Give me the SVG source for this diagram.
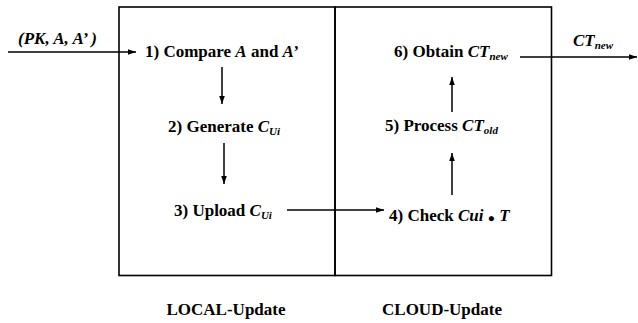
<svg xmlns="http://www.w3.org/2000/svg" width="638" height="323" viewBox="0 0 638 323">
<style>
.t{font-family:"Liberation Serif","DejaVu Serif","Times New Roman",serif;font-weight:bold;font-size:17px;fill:#000}
.i{font-style:italic}
.s{font-size:11px}
.box{fill:none;stroke:#000;stroke-width:1.6}
.c{stroke:#000;stroke-width:1.5;fill:none}
</style>
<defs>
<marker id="ah" viewBox="0 0 10 10" refX="10" refY="5" markerWidth="8" markerHeight="8" markerUnits="userSpaceOnUse" orient="auto"><path d="M0,1.5 L10,5 L0,8.5 Z" fill="#000"/></marker>
</defs>
<rect width="638" height="323" fill="#fff"/>
<g id="local-box"><rect class="box" x="119" y="7" width="216" height="268.5"/></g>
<g id="cloud-box"><rect class="box" x="335" y="7" width="216.5" height="268.5"/></g>
<g id="connectors">
<line class="c" x1="8" y1="52" x2="136" y2="52" marker-end="url(#ah)"/>
<line class="c" x1="222" y1="67" x2="222" y2="104" marker-end="url(#ah)"/>
<line class="c" x1="224" y1="143" x2="224" y2="184" marker-end="url(#ah)"/>
<line class="c" x1="287" y1="210" x2="384" y2="210" marker-end="url(#ah)"/>
<line class="c" x1="452" y1="195" x2="452" y2="153" marker-end="url(#ah)"/>
<line class="c" x1="452" y1="112" x2="452" y2="77" marker-end="url(#ah)"/>
<line class="c" x1="520" y1="57" x2="637" y2="57" marker-end="url(#ah)"/>
</g>
<g id="input-label"><text class="t i" x="18" y="44">(PK, A, A’ )</text></g>
<g id="n1"><text class="t" x="145" y="57">1) Compare <tspan class="i">A</tspan> and <tspan class="i">A’</tspan></text></g>
<g id="n2"><text class="t" x="168" y="132">2) Generate <tspan class="i">C<tspan class="s" dy="3">Ui</tspan></tspan></text></g>
<g id="n3"><text class="t" x="174" y="216">3) Upload <tspan class="i">C<tspan class="s" dy="3">Ui</tspan></tspan></text></g>
<g id="n4"><text class="t" x="389" y="221">4) Check <tspan class="i">Cui</tspan> <tspan font-size="12" dy="1">●</tspan> <tspan class="i" dy="-1">T</tspan></text></g>
<g id="n5"><text class="t" x="385" y="131">5) Process <tspan class="i">CT<tspan class="s" dy="3">old</tspan></tspan></text></g>
<g id="n6"><text class="t" x="394" y="57">6) Obtain <tspan class="i">CT<tspan class="s" dy="3">new</tspan></tspan></text></g>
<g id="output-label"><text class="t i" x="573" y="46">CT<tspan class="s" dy="3">new</tspan></text></g>
<g id="local-label"><text class="t" x="226" y="315" text-anchor="middle">LOCAL-Update</text></g>
<g id="cloud-label"><text class="t" x="442" y="315" text-anchor="middle">CLOUD-Update</text></g>
</svg>
